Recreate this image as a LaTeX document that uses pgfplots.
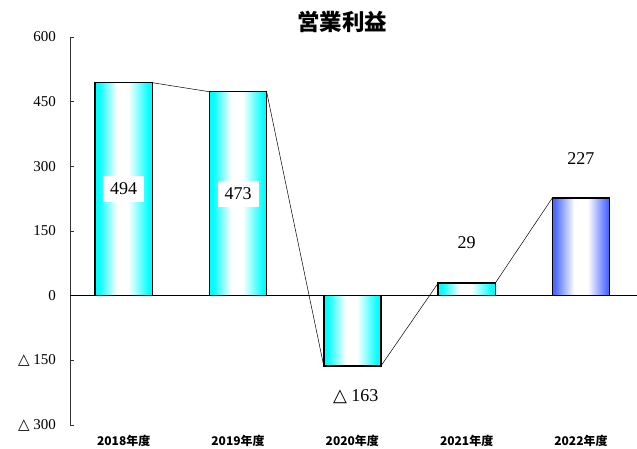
\documentclass[border=0pt]{standalone}
\usepackage{fontspec}
\usepackage{pgfplots}
\pgfplotsset{compat=1.18}
\setmainfont{Liberation Serif}
\newfontfamily\jp{Noto Sans CJK JP}
\newfontfamily\dv{DejaVu Sans}
\newcommand\tri{{\dv △}}
\definecolor{barblue}{RGB}{75,105,255}
\pgfdeclarehorizontalshading{cyanbar}{100bp}{color(0bp)=(cyan); color(25bp)=(cyan); color(28bp)=(cyan); color(44bp)=(white); color(54bp)=(white); color(72bp)=(cyan); color(75bp)=(cyan); color(100bp)=(cyan)}
\pgfdeclarehorizontalshading{bluebar}{100bp}{color(0bp)=(barblue); color(25bp)=(barblue); color(27bp)=(barblue); color(44bp)=(white); color(56bp)=(white); color(73bp)=(barblue); color(75bp)=(barblue); color(100bp)=(barblue)}
\begin{document}
\begin{tikzpicture}
\begin{axis}[
  scale only axis, width=567pt, height=388pt,
  xmin=-0.47, xmax=4.49, ymin=-300, ymax=600,
  axis y line*=left, axis x line*=bottom,
  x axis line style={draw=none},
  xtick={0,1,2,3,4},
  xticklabels={2018年度,2019年度,2020年度,2021年度,2022年度},
  xtick style={draw=none},
  xticklabel style={font=\jp\bfseries\fontsize{12}{13}\selectfont, yshift=-3pt},
  ytick={-300,-150,0,150,300,450,600},
  yticklabels={\tri~300,\tri~150,0,150,300,450,600},
  /pgf/number format/assume math mode=true,
  yticklabel style={font=\fontsize{15}{16}\selectfont, xshift=-10.5pt},
  tick align=inside, major tick length=4pt,
  ytick pos=left,
  axis line style={line width=0.6pt, black!80},
  ytick style={line width=0.6pt, black!80},
  ybar, bar width=0.5, bar shift=0pt,
  clip=false,
]
\addplot[sharp plot, no marks, black, line width=0.6pt, forget plot]
  coordinates {(-0.47,0) (4.49,0)};
\addplot[sharp plot, no marks, black, line width=0.5pt, forget plot]
  coordinates {(0.25,494) (0.75,473) (1.25,473) (1.75,-163) (2.25,-163) (2.75,29) (3.25,29) (3.75,227)};
\addplot[ybar, draw=black, line width=1.5pt, shading=cyanbar, shade]
  coordinates {(0,494)};
\addplot[ybar, draw=black, line width=1.5pt, shading=cyanbar, shade]
  coordinates {(1,473)};
\addplot[ybar, draw=black, line width=1.5pt, shading=cyanbar, shade]
  coordinates {(2,-163)};
\addplot[ybar, draw=black, line width=1.5pt, shading=cyanbar, shade]
  coordinates {(3,29)};
\addplot[ybar, draw=black, line width=1.5pt, shading=bluebar, shade]
  coordinates {(4,227)};
\node[fill=white, inner xsep=7pt, inner ysep=7pt, font=\fontsize{18}{20}\selectfont] at (axis cs:0,248) {494};
\node[fill=white, inner xsep=7pt, inner ysep=7pt, font=\fontsize{18}{20}\selectfont] at (axis cs:1,236) {473};
\node[font=\fontsize{18}{20}\selectfont] at (axis cs:2.03,-234) {\tri~163};
\node[font=\fontsize{18}{20}\selectfont] at (axis cs:3,122) {29};
\node[font=\fontsize{18}{20}\selectfont] at (axis cs:4,319) {227};
\node[font=\jp\bfseries\fontsize{22.5}{24}\selectfont] at (rel axis cs:0.48,1.04) {営業利益};
\end{axis}
\pgfresetboundingbox
\path (current axis.south west) ++(-70pt,-24pt) rectangle ++(637pt,449pt);
\end{tikzpicture}
\end{document}
